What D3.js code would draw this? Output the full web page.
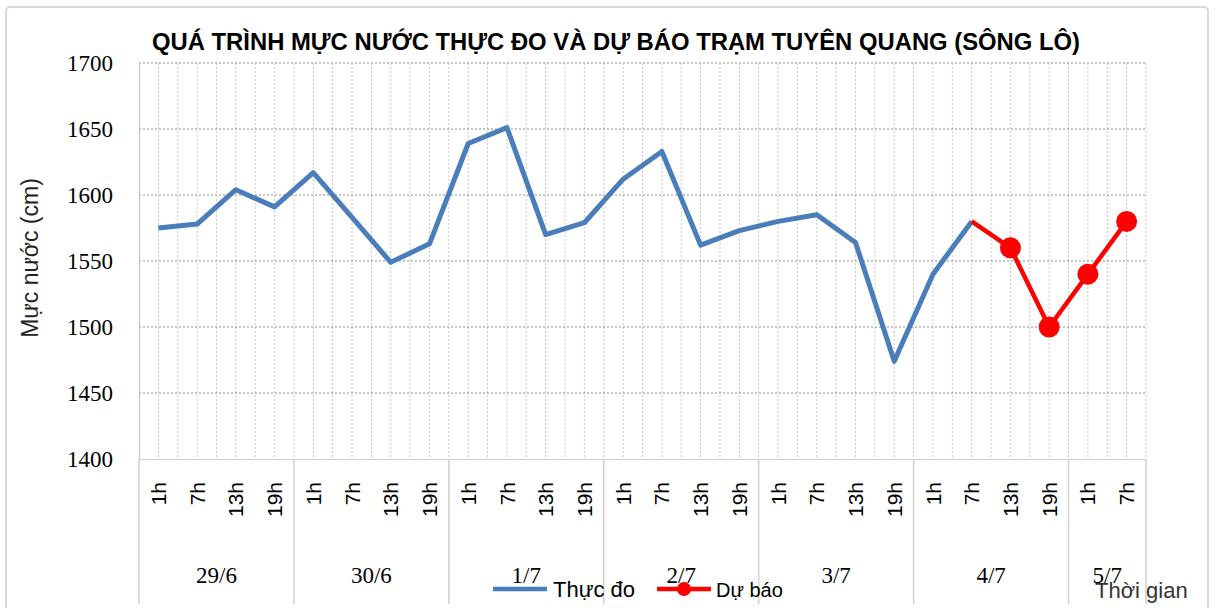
<!DOCTYPE html>
<html>
<head>
<meta charset="utf-8">
<script src="https://cdn.jsdelivr.net/npm/d3@7"></script>
<style>
  body { margin: 0; background: #fff; }
  svg { display: block; }
</style>
</head>
<body>
<script>
// data
const dayGroups = ["29/6", "30/6", "1/7", "2/7", "3/7", "4/7", "5/7"];
const groupSizes = [4, 4, 4, 4, 4, 4, 2];
const hours = ["1h", "7h", "13h", "19h", "1h", "7h", "13h", "19h", "1h", "7h", "13h", "19h",
  "1h", "7h", "13h", "19h", "1h", "7h", "13h", "19h", "1h", "7h", "13h", "19h", "1h", "7h"];
const observed = [1575, 1578, 1604, 1591, 1617, 1583, 1549, 1563, 1639, 1651, 1570, 1579,
  1612, 1633, 1562, 1573, 1580, 1585, 1564, 1474, 1540, 1580, null, null, null, null];
const forecast = [null, null, null, null, null, null, null, null, null, null, null, null,
  null, null, null, null, null, null, null, null, null, 1580, 1560, 1500, 1540, 1580];
const yTicks = [1400, 1450, 1500, 1550, 1600, 1650, 1700];

let width = 1218;
let height = 608;
let plot = { left: 139, right: 1146, top: 63, bottom: 459 };

// unique key per point: day + hour
let keys = [];
let dayOfPoint = [];
dayGroups.forEach((d, gi) => {
  for (let k = 0; k < groupSizes[gi]; k++) dayOfPoint.push(d);
});
hours.forEach((h, i) => keys.push(dayOfPoint[i] + " " + h));

let x = d3.scaleBand().domain(keys).range([plot.left, plot.right]).padding(0);
let y = d3.scaleLinear().domain([1400, 1700]).range([plot.bottom, plot.top]);
let cx = (i) => x(keys[i]) + x.bandwidth() / 2;

let svg = d3.select("body").append("svg")
  .attr("width", width)
  .attr("height", height);

// outer frame
svg.append("rect")
  .attr("x", 6).attr("y", 7)
  .attr("width", 1202).attr("height", 610)
  .attr("rx", 4)
  .attr("fill", "#fff")
  .attr("stroke", "#d9d9d9")
  .attr("stroke-width", 2);

// title
svg.append("text")
  .attr("x", 152).attr("y", 50)
  .attr("textLength", 928)
  .attr("lengthAdjust", "spacingAndGlyphs")
  .style("font-family", "'Liberation Sans', Arial, sans-serif")
  .style("font-weight", "bold")
  .style("font-size", "23px")
  .attr("fill", "#000")
  .text("QUÁ TRÌNH MỰC NƯỚC THỰC ĐO VÀ DỰ BÁO TRẠM TUYÊN QUANG (SÔNG LÔ)");

// vertical gridlines: category boundaries and centres
let vLines = [];
keys.forEach((k, i) => {
  vLines.push(x(k));
  vLines.push(cx(i));
});
vLines.push(plot.right);
svg.append("g")
  .selectAll("line")
  .data(vLines.slice(1))
  .enter()
  .append("line")
  .attr("x1", (d) => d).attr("x2", (d) => d)
  .attr("y1", plot.top).attr("y2", plot.bottom)
  .attr("stroke", "#c8c8c8")
  .attr("stroke-width", 1)
  .attr("stroke-dasharray", "2,2");

// horizontal gridlines
svg.append("g")
  .selectAll("line")
  .data(yTicks.slice(1))
  .enter()
  .append("line")
  .attr("x1", plot.left).attr("x2", plot.right)
  .attr("y1", (d) => y(d)).attr("y2", (d) => y(d))
  .attr("stroke", "#8c8c8c")
  .attr("stroke-width", 1)
  .attr("stroke-dasharray", "2,2");

// y axis
let yAxis = svg.append("g")
  .attr("transform", "translate(" + plot.left + ",0)")
  .call(d3.axisLeft(y).tickValues(yTicks).tickSize(0).tickPadding(26).tickFormat(d3.format("d")))
  .attr("font-family", "'Liberation Serif', 'Times New Roman', serif")
  .attr("font-size", 23);
yAxis.select(".domain").attr("stroke", "#bfbfbf");
yAxis.selectAll("text").attr("fill", "#000");

svg.append("text")
  .attr("transform", "translate(38,258) rotate(-90)")
  .attr("text-anchor", "middle")
  .style("font-family", "'Liberation Sans', Arial, sans-serif")
  .style("font-size", "23px")
  .attr("fill", "#222")
  .text("Mực nước (cm)");

// x axis: hour labels
let xAxis = svg.append("g")
  .attr("transform", "translate(0," + plot.bottom + ")")
  .call(d3.axisBottom(x).tickSize(0).tickFormat((d, i) => hours[i]))
  .attr("font-family", "'Liberation Sans', Arial, sans-serif")
  .attr("font-size", 21);
xAxis.select(".domain").attr("stroke", "#d0d0d0");
xAxis.selectAll("text")
  .attr("transform", "rotate(-90)")
  .attr("x", -23)
  .attr("y", 0)
  .attr("dy", "0.36em")
  .attr("text-anchor", "end")
  .attr("fill", "#000");

// day group separators and labels
let groupStarts = [];
let acc = 0;
groupSizes.forEach((s) => {
  groupStarts.push(acc);
  acc += s;
});
let sepX = groupStarts.map((s) => x(keys[s]));
sepX.push(plot.right);
svg.append("g")
  .selectAll("line")
  .data(sepX)
  .enter()
  .append("line")
  .attr("x1", (d) => d).attr("x2", (d) => d)
  .attr("y1", plot.bottom).attr("y2", 604)
  .attr("stroke", "#d0d0d0")
  .attr("stroke-width", 1.5);

svg.append("g")
  .selectAll("text")
  .data(dayGroups)
  .enter()
  .append("text")
  .attr("x", (d, i) => (sepX[i] + sepX[i + 1]) / 2)
  .attr("y", 583)
  .attr("text-anchor", "middle")
  .style("font-family", "'Liberation Serif', Cambria, serif")
  .style("font-size", "23px")
  .attr("fill", "#000")
  .text((d) => d);

// lines
let line = d3.line()
  .defined((d) => d != null)
  .x((d, i) => cx(i))
  .y((d) => y(d));

svg.append("path")
  .datum(observed)
  .attr("d", line)
  .attr("fill", "none")
  .attr("stroke", "#4a7ebb")
  .attr("stroke-width", 5)
  .attr("stroke-linejoin", "round");

svg.append("path")
  .datum(forecast)
  .attr("d", line)
  .attr("fill", "none")
  .attr("stroke", "#ff0000")
  .attr("stroke-width", 4.5)
  .attr("stroke-linejoin", "round");

// forecast markers (first point is the joint with the observed line, no marker)
svg.append("g")
  .selectAll("circle")
  .data(forecast.map((v, i) => ({ v: v, i: i })).filter((d) => d.v != null && d.i > 21))
  .enter()
  .append("circle")
  .attr("cx", (d) => cx(d.i))
  .attr("cy", (d) => y(d.v))
  .attr("r", 10.5)
  .attr("fill", "#ff0000");

// legend
let legend = svg.append("g").attr("id", "legend");
legend.append("line")
  .attr("x1", 493).attr("x2", 547).attr("y1", 589).attr("y2", 589)
  .attr("stroke", "#4a7ebb").attr("stroke-width", 4.5);
legend.append("text")
  .attr("x", 553).attr("y", 597)
  .style("font-family", "'Liberation Sans', Arial, sans-serif")
  .style("font-size", "22px")
  .attr("fill", "#000")
  .text("Thực đo");
legend.append("line")
  .attr("x1", 657).attr("x2", 711).attr("y1", 589).attr("y2", 589)
  .attr("stroke", "#ff0000").attr("stroke-width", 4.5);
legend.append("circle")
  .attr("cx", 684).attr("cy", 589).attr("r", 7)
  .attr("fill", "#ff0000");
legend.append("text")
  .attr("x", 716).attr("y", 597)
  .style("font-family", "'Liberation Sans', Arial, sans-serif")
  .style("font-size", "20px")
  .attr("fill", "#000")
  .text("Dự báo");

// x axis title
svg.append("text")
  .attr("x", 1095).attr("y", 598)
  .style("font-family", "'Liberation Sans', Arial, sans-serif")
  .style("font-size", "22px")
  .attr("fill", "#333")
  .text("Thời gian");
</script>
</body>
</html>
